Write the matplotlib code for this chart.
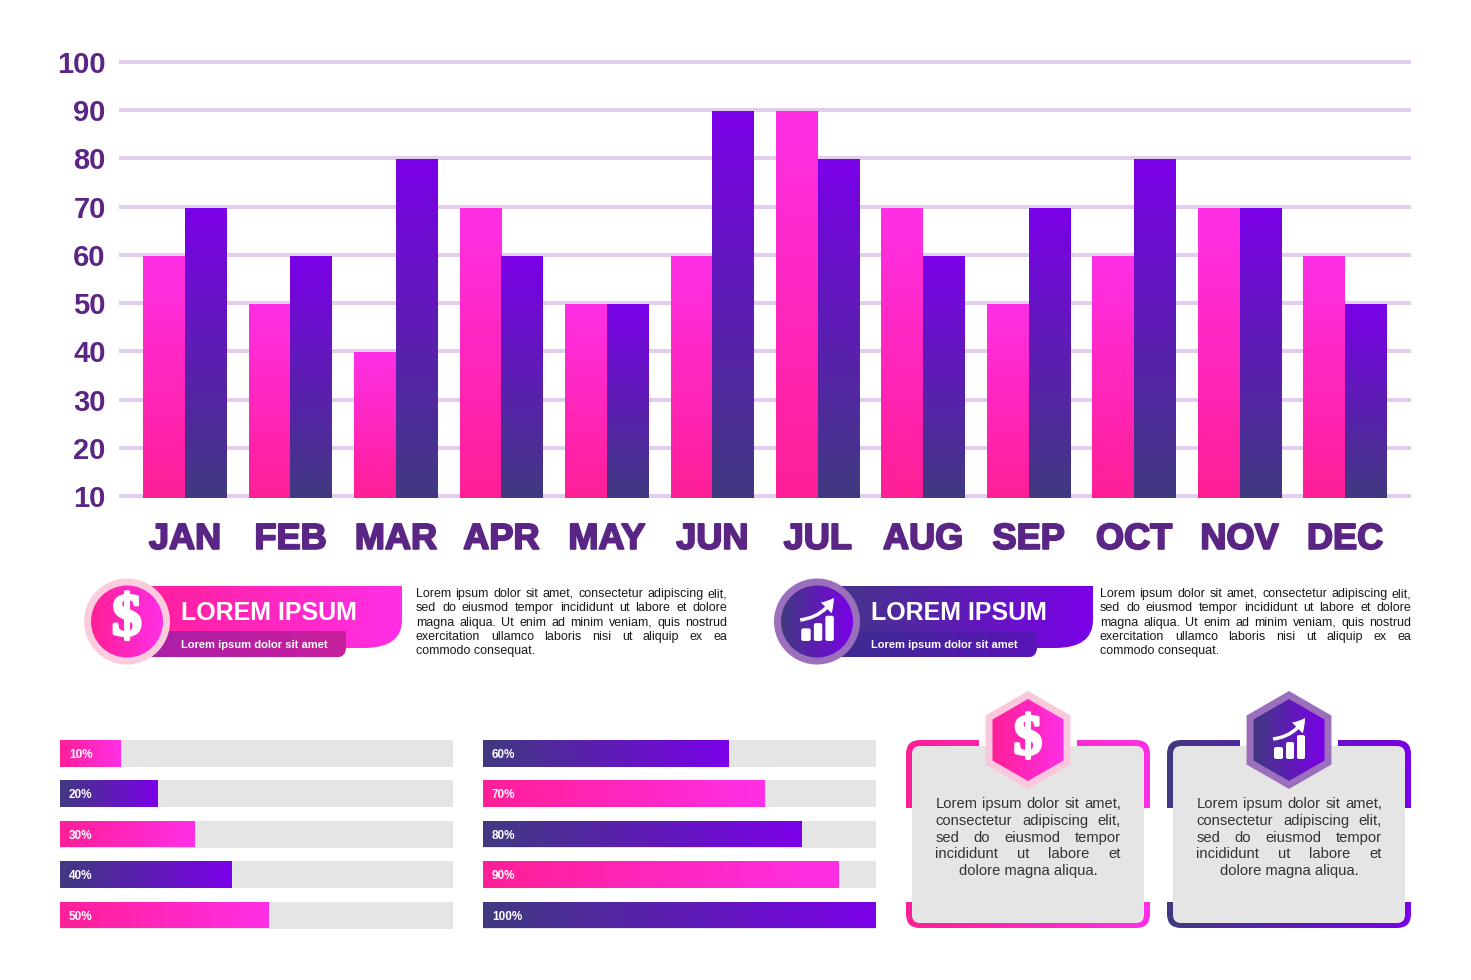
import numpy as np
import matplotlib
matplotlib.use('Agg')
import matplotlib.pyplot as plt
import matplotlib.patheffects as pe
from matplotlib.colors import LinearSegmentedColormap
from matplotlib.patches import Circle, FancyBboxPatch, FancyArrowPatch, Rectangle, RegularPolygon, PathPatch
from matplotlib.path import Path

months = ['JAN', 'FEB', 'MAR', 'APR', 'MAY', 'JUN', 'JUL', 'AUG', 'SEP', 'OCT', 'NOV', 'DEC']
pink_vals = [60, 50, 40, 70, 50, 60, 90, 70, 50, 60, 70, 60]
purple_vals = [70, 60, 80, 60, 50, 90, 80, 60, 70, 80, 70, 50]
y_ticks = [10, 20, 30, 40, 50, 60, 70, 80, 90, 100]
left_progress = [10, 20, 30, 40, 50]
right_progress = [60, 70, 80, 90, 100]
left_styles = ['pink', 'purple', 'pink', 'purple', 'pink']
right_styles = ['purple', 'pink', 'purple', 'pink', 'purple']

para_lines = ['Lorem ipsum dolor sit amet, consectetur adipiscing elit,',
              'sed do eiusmod tempor incididunt ut labore et dolore',
              'magna aliqua. Ut enim ad minim veniam, quis nostrud',
              'exercitation ullamco laboris nisi ut aliquip ex ea',
              'commodo consequat.']
card_lines = ['Lorem ipsum dolor sit amet,',
              'consectetur adipiscing elit,',
              'sed do eiusmod tempor',
              'incididunt ut labore et',
              'dolore magna aliqua.']

W, H = 1471, 980
plt.rcParams['font.family'] = ['Liberation Sans', 'DejaVu Sans']
PURPLE_TXT = '#5B2586'
GRID = '#E2CEEC'
GREY = '#E5E5E5'
cmaps = {
    'pink': LinearSegmentedColormap.from_list('pink', ['#FF1F96', '#FF2FE6']),
    'purple': LinearSegmentedColormap.from_list('purple', ['#403A80', '#7B00E8']),
    'sub_pink': LinearSegmentedColormap.from_list('sub_pink', ['#A81FA8', '#C81F9C']),
    'sub_purple': LinearSegmentedColormap.from_list('sub_purple', ['#3A2F8C', '#5A14B8']),
}
grad = np.linspace(0, 1, 256)

fig = plt.figure(figsize=(W / 100, H / 100), dpi=100, facecolor='white')


def px_axes(x0, y0, x1, y1):
    # axes placed by pixel box, y measured from the top of the picture
    return fig.add_axes([x0 / W, 1 - y1 / H, (x1 - x0) / W, (y1 - y0) / H])


def fill_bar(ax, patch, cmap, vertical, zorder=3):
    # gradient on top of a bar, takes its extent from the bar itself
    x0, y0 = patch.get_x(), patch.get_y()
    x1, y1 = x0 + patch.get_width(), y0 + patch.get_height()
    arr = grad.reshape(-1, 1) if vertical else grad.reshape(1, -1)
    patch.set_visible(False)
    ax.imshow(arr, extent=[x0, x1, y0, y1], origin='lower', aspect='auto', cmap=cmap, zorder=zorder)


# main chart
ax = px_axes(119, 55, 1411, 498.5)
px_per_val = (496 - 62) / 90.0
y_top = 100 + (62 - 55) / px_per_val
y_bot = 10 - 2.5 / px_per_val
x = np.arange(len(months))
w = 41.7 / 105.45
bars1 = ax.bar(x - w / 2, np.array(pink_vals) - 0.4 - y_bot, w, bottom=y_bot, zorder=2)
bars2 = ax.bar(x + w / 2, np.array(purple_vals) - 0.4 - y_bot, w, bottom=y_bot, zorder=2)
for b in bars1:
    fill_bar(ax, b, cmaps['pink'], True)
for b in bars2:
    fill_bar(ax, b, cmaps['purple'], True)
ax.set_xlim((119 - 185) / 105.45, (1411 - 185) / 105.45)
ax.set_ylim(y_bot, y_top)
for s in ax.spines.values():
    s.set_visible(False)
ax.set_yticks(y_ticks)
ax.set_yticklabels([str(v) for v in y_ticks], fontsize=21, fontweight='bold', color=PURPLE_TXT, va='center_baseline')
ax.set_xticks(x)
ax.set_xticklabels(months, fontsize=26, fontweight='bold', color=PURPLE_TXT)
ax.tick_params(axis='both', length=0)
ax.tick_params(axis='y', pad=9.5)
ax.tick_params(axis='x', pad=16.8)
for lab in ax.get_xticklabels():
    lab.set_path_effects([pe.withStroke(linewidth=1.4, foreground=PURPLE_TXT)])
ax.grid(axis='y', color=GRID, linewidth=2.9, zorder=1)
ax.set_axisbelow(True)


# progress bars
def progress(x0, x1, values, styles):
    for row, (val, style) in enumerate(zip(values, styles)):
        yc = [753.5, 793.8, 834, 874.5, 915][row]
        a = px_axes(x0, yc - 13.5, x1, yc + 13.5)
        a.axis('off')
        a.barh([0], [106.5], left=-6.5, height=1, color=GREY, zorder=1)
        b = a.barh([0], [val + 6.5], left=-6.5, height=1, zorder=2)
        fill_bar(a, b[0], cmaps[style], False)
        a.set_xlim(-6.5, 100)
        a.set_ylim(-0.5, 0.5)
        a.text(-6.5 + 9 * 106.5 / (x1 - x0), 0, '%d%%' % val, color='white', fontsize=8.5,
               fontweight='bold', va='center_baseline', ha='left', zorder=4)


progress(60, 452.5, left_progress, left_styles)
progress(483, 875.5, right_progress, right_styles)

# everything else sits on one overlay in pixel coordinates
ov = fig.add_axes([0, 0, 1, 1], facecolor='none')
ov.set_xlim(0, W)
ov.set_ylim(H, 0)
ov.axis('off')
renderer = fig.canvas.get_renderer()


def grad_patch(patch, bbox, cmap, zorder):
    ov.add_patch(patch)
    patch.set_facecolor('none')
    patch.set_edgecolor('none')
    patch.set_zorder(zorder)
    im = ov.imshow(grad.reshape(1, -1), extent=[bbox[0], bbox[2], bbox[3], bbox[1]], aspect='auto',
                   cmap=cmap, zorder=zorder)
    im.set_clip_path(patch)


def justified(lines, x0, x1, y_list, size, color, last='left'):
    for i, (line, y) in enumerate(zip(lines, y_list)):
        base = y + size * 0.5
        if i == len(lines) - 1:
            ov.text(x0 if last == 'left' else (x0 + x1) / 2, base, line, fontsize=size, color=color,
                    va='baseline', ha=last, zorder=10)
            continue
        words = line.split(' ')
        texts = [ov.text(0, base, wd, fontsize=size, color=color, va='baseline', ha='left', zorder=10) for wd in words]
        widths = [t.get_window_extent(renderer).width for t in texts]
        gap = (x1 - x0 - sum(widths)) / (len(words) - 1)
        pos = x0
        for t, wd in zip(texts, widths):
            t.set_x(pos)
            pos += wd + gap


def dollar(cx, cy, size, zorder=9):
    t = ov.text(cx, cy, '$', fontsize=size, color='white', fontweight='bold', family='Liberation Serif',
                ha='center', va='center', zorder=zorder)
    t.set_path_effects([pe.withStroke(linewidth=2.2, foreground='white')])


def chart_icon(cx, cy, k=1.0, zorder=9):
    for bx0, bx1, by0 in [(-15, -6, 7), (-3, 5, 2), (8, 16, -5)]:
        ov.add_patch(FancyBboxPatch((cx + bx0 * k + 1, cy + by0 * k + 1), (bx1 - bx0) * k - 2, (19 - by0) * k - 2,
                                    boxstyle='round,pad=1,rounding_size=2', fc='white', ec='none', zorder=zorder))
    ov.add_patch(FancyArrowPatch((cx - 16 * k, cy - 1 * k), (cx + 16 * k, cy - 22 * k), connectionstyle='arc3,rad=0.25',
                                 arrowstyle='simple,head_width=11,head_length=9,tail_width=2.5', fc='white',
                                 ec='none', mutation_scale=1, zorder=zorder, shrinkA=0, shrinkB=0))


def ribbon_path(x0, y0, x1, y1, rx, ry):
    # rectangle with only the bottom right corner rounded
    return Path([(x0, y0), (x1, y0), (x1, y1 - ry), (x1, y1), (x1 - rx, y1), (x0, y1), (x0, y0)],
                [Path.MOVETO, Path.LINETO, Path.LINETO, Path.CURVE3, Path.CURVE3, Path.LINETO, Path.CLOSEPOLY])


def badge(cx, x_end, sub_end, main, sub, ring, icon):
    grad_patch(PathPatch(ribbon_path(cx + 15, 586, x_end, 648, 38, 28)), (cx, 586, x_end, 648), cmaps[main], 4)
    grad_patch(PathPatch(ribbon_path(cx + 15, 631, sub_end, 657.5, 10, 10)), (cx, 631, sub_end, 657.5), cmaps[sub], 5)
    ov.add_patch(Circle((cx, 621.5), 43, fc=ring, ec='none', zorder=6))
    grad_patch(Circle((cx, 621.5), 36), (cx - 36, 585, cx + 36, 658), cmaps[main], 7)
    ov.text(cx + 54, 612.5, 'LOREM IPSUM', color='white', fontsize=18, fontweight='bold', va='center', zorder=8)
    ov.text(cx + 54, 644.5, 'Lorem ipsum dolor sit amet', color='white', fontsize=8, fontweight='bold',
            va='center', zorder=8)
    if icon == 'dollar':
        dollar(cx, 621, 43)
    else:
        chart_icon(cx, 621, 1.05)


badge(127, 402, 346, 'pink', 'sub_pink', '#FBCBDE', 'dollar')
badge(817, 1093, 1037, 'purple', 'sub_purple', '#9B6FBC', 'chart')
para_y = [592.5, 606.5, 621, 635.5, 649.5]
justified(para_lines, 416, 727.5, para_y, 9, '#1A1A1A')
justified(para_lines, 1100, 1411.5, para_y, 9, '#1A1A1A')


def card(x0, x1, main, ring, icon):
    cx = (x0 + x1) / 2
    grad_patch(FancyBboxPatch((x0 + 14, 754), x1 - x0 - 28, 160, boxstyle='round,pad=14,rounding_size=14'),
               (x0, 740, x1, 928), cmaps[main], 3)
    ov.add_patch(Rectangle((x0 - 1, 808), 8, 94, fc='white', ec='none', zorder=3.2))
    ov.add_patch(Rectangle((x1 - 7, 808), 8, 94, fc='white', ec='none', zorder=3.2))
    ov.add_patch(Rectangle((cx - 49, 738), 98, 9, fc='white', ec='none', zorder=3.2))
    ov.add_patch(FancyBboxPatch((x0 + 16, 756), x1 - x0 - 32, 157, boxstyle='round,pad=10,rounding_size=8',
                                fc=GREY, ec='none', zorder=3.5))
    ov.add_patch(RegularPolygon((cx, 740), 6, radius=49, orientation=0, fc=ring, ec='none', zorder=6))
    grad_patch(RegularPolygon((cx, 740), 6, radius=41, orientation=0), (cx - 36, 699, cx + 36, 781), cmaps[main], 7)
    if icon == 'dollar':
        dollar(cx, 740, 41)
    else:
        chart_icon(cx, 740)
    justified(card_lines, cx - 92.5, cx + 93, [802.5, 819.5, 836.5, 853, 869.5], 10.6, '#333333', last='center')


card(906, 1150, 'pink', '#F9C8DC', 'dollar')
card(1167, 1411, 'purple', '#9B6FBC', 'chart')

ov.set_xlim(0, W)
ov.set_ylim(H, 0)

fig.savefig('out.png', dpi=100)
plt.close()
